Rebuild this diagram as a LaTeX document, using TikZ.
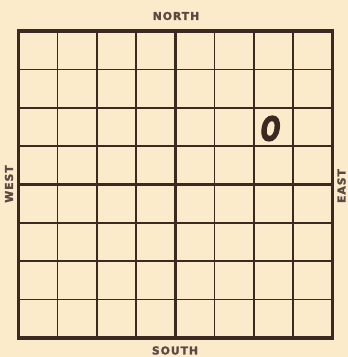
\documentclass[tikz,border=0pt]{standalone}
\usepackage{fontspec}
\setmainfont{Liberation Sans}
\newfontfamily\lblfont{DejaVu Sans}[LetterSpace=9,FakeBold=2]
\newfontfamily\markfont{DejaVu Sans}[FakeSlant=0.2,FakeBold=4]
\definecolor{paper}{HTML}{FCEBCB}
\definecolor{ink}{HTML}{3A2A22}
\definecolor{labelink}{HTML}{5A4A42}
\begin{document}
\begin{tikzpicture}[x=1pt,y=-1pt,
  thinline/.style={draw=ink,line width=1.6pt},
  thickline/.style={draw=ink,line width=3.2pt},
  dirlabel/.style={text=labelink,font=\lblfont\fontsize{10.8}{10.8}\selectfont\bfseries,inner sep=0pt}]
\fill[paper] (0,0) rectangle (348,357);
\useasboundingbox (0,0) rectangle (348,357);
% thin grid lines
\foreach \i in {1,2,3,5,6,7} {
  \draw[thinline] ({18.3+\i*39.25},31) -- ({18.3+\i*39.25},338);
  \draw[thinline] (18.3,{31+\i*38.375}) -- (332.3,{31+\i*38.375});
}
% centre lines
\draw[thickline] ({18.3+4*39.25},31) -- ({18.3+4*39.25},338);
\draw[thickline] (18.3,{31+4*38.375}) -- (332.3,{31+4*38.375});
% border
\draw[thickline,line cap=rect] (18.3,31) rectangle (332.3,338);
% labels
\node[dirlabel] (north) at (176,16) {NORTH};
\node[dirlabel] (south) at (175,350.5) {SOUTH};
\node[dirlabel,rotate=90] (west) at (9,184) {WEST};
\node[dirlabel,rotate=90] (east) at (341.5,186) {EAST};
\node[text=ink,inner sep=0pt,font=\markfont\fontsize{33}{33}\selectfont\bfseries,xscale=0.7] (mark) at (269,128.5) {O};
\end{tikzpicture}
\end{document}
